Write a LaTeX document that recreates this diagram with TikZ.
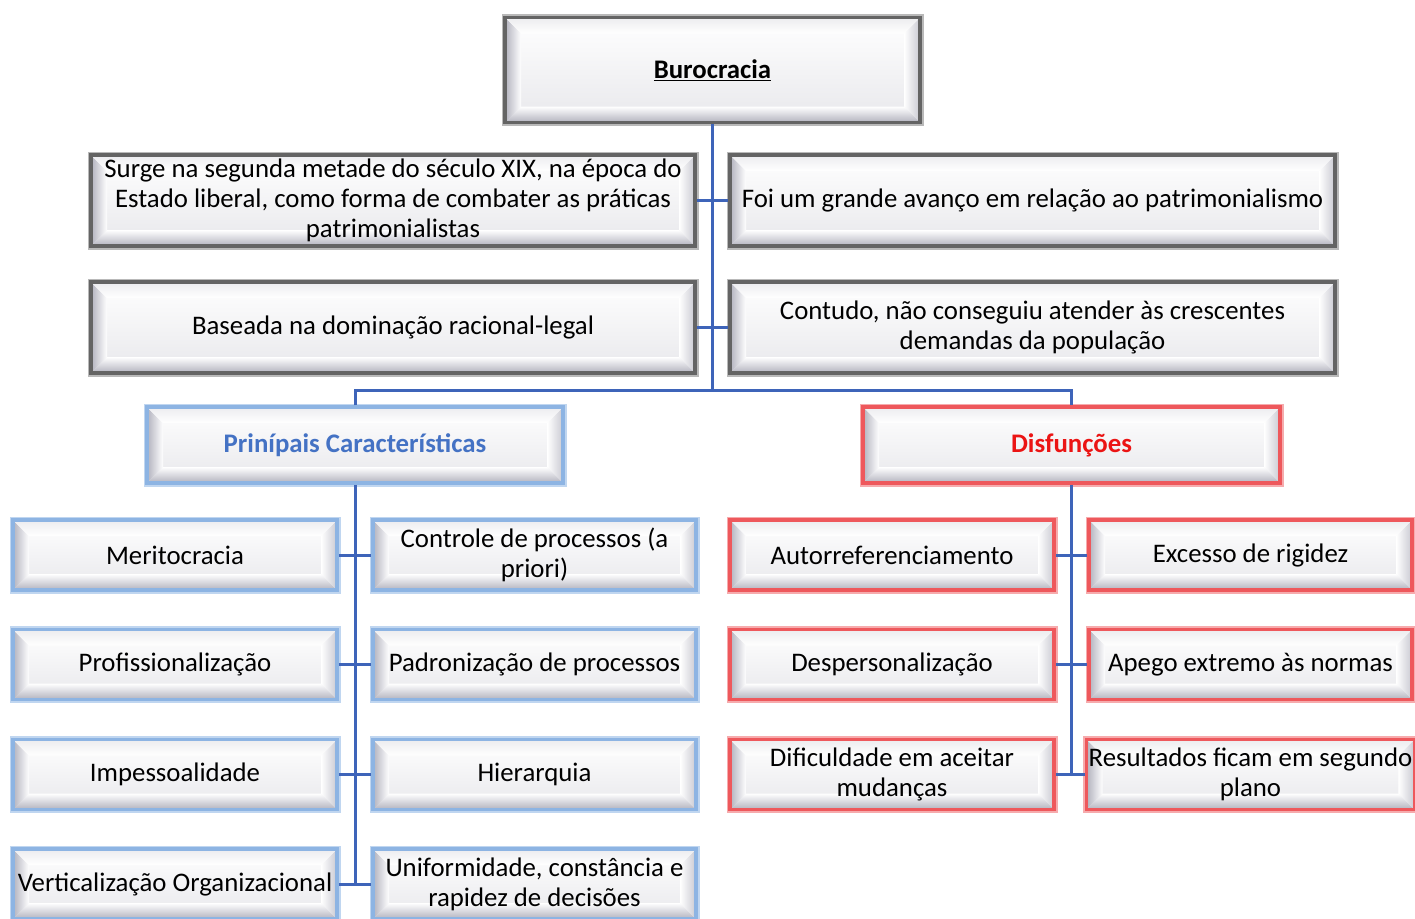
\documentclass[tikz,border=0pt]{standalone}
\usepackage{fontspec}
\setmainfont{Carlito}
\usetikzlibrary{calc}
\definecolor{conn}{RGB}{62,100,185}
\definecolor{gbord}{RGB}{100,100,100}
\definecolor{bbord}{RGB}{141,180,227}
\definecolor{rbord}{RGB}{238,88,92}
\definecolor{btext}{RGB}{68,114,196}
\definecolor{rtext}{RGB}{235,20,20}
\definecolor{bev}{RGB}{178,178,190}
\newcommand{\txtfont}{\fontsize{26.8}{29.8}\selectfont}
\tikzset{
  bevelbox/.style={rectangle, inner sep=2pt, align=center,
    font=\txtfont, fill=white,
    path picture={
      \path (path picture bounding box.south west) coordinate (psw)
            (path picture bounding box.north east) coordinate (pne)
            (path picture bounding box.north west) coordinate (pnw)
            (path picture bounding box.south east) coordinate (pse);
      \shade[top color=white, bottom color=bev!30] (psw) rectangle (pne);
      \shade[left color=bev, right color=white]
        (psw) -- (pnw) -- ($(pnw)+(16pt,-16pt)$) -- ($(psw)+(16pt,16pt)$) -- cycle;
      \shade[bottom color=bev, top color=white]
        (psw) -- (pse) -- ($(pse)+(-16pt,16pt)$) -- ($(psw)+(16pt,16pt)$) -- cycle;
      \shade[right color=bev!70, left color=white]
        (pse) -- (pne) -- ($(pne)+(-16pt,-16pt)$) -- ($(pse)+(-16pt,16pt)$) -- cycle;
      \shade[top color=bev!25, bottom color=white]
        (pnw) -- (pne) -- ($(pne)+(-16pt,-16pt)$) -- ($(pnw)+(16pt,-16pt)$) -- cycle;
    }},
  graybox/.style={bevelbox, draw=gbord, line width=3.5pt,
    preaction={draw=gbord!45, line width=7pt}},
  bluebox/.style={bevelbox, draw=bbord, line width=3.5pt,
    preaction={draw=bbord!55, line width=7pt}},
  redbox/.style={bevelbox, draw=rbord, line width=3.5pt,
    preaction={draw=rbord!50, line width=7pt}},
  link/.style={draw=conn, line width=3pt},
}
\begin{document}
\begin{tikzpicture}[x=1pt,y=-1pt]
\useasboundingbox (0,0) rectangle (1415,918);
\fill[white] (0,0) rectangle (1415,918);

% top level
\node[graybox, minimum width=415, minimum height=105, font=\txtfont\bfseries] (bur) at (712.5,70) {\underline{Burocracia}};

\node[graybox, minimum width=604, minimum height=91] (r1l) at (393,200.5)
  {Surge na segunda metade do século XIX, na época do\\Estado liberal, como forma de combater as práticas\\patrimonialistas};
\node[graybox, minimum width=605, minimum height=91] (r1r) at (1032.5,200.5)
  {Foi um grande avanço em relação ao patrimonialismo};
\node[graybox, minimum width=604, minimum height=91] (r2l) at (393,327.5)
  {Baseada na dominação racional-legal};
\node[graybox, minimum width=605, minimum height=91] (r2r) at (1032.5,327.5)
  {Contudo, não conseguiu atender às crescentes\\demandas da população};

% headers
\node[bluebox, minimum width=416, minimum height=76, text=btext, font=\txtfont\bfseries] (blueh) at (355,445) {Prinípais Características};
\node[redbox, minimum width=417, minimum height=76, text=rtext, font=\txtfont\bfseries] (redh) at (1071.5,445) {Disfunções};

% blue children
\node[bluebox, minimum width=324, minimum height=70] (b1l) at (175,555) {Meritocracia};
\node[bluebox, minimum width=323, minimum height=70] (b1r) at (534.5,555) {Controle de processos (a\\priori)};
\node[bluebox, minimum width=324, minimum height=70] (b2l) at (175,664.5) {Profissionalização};
\node[bluebox, minimum width=323, minimum height=70] (b2r) at (534.5,664.5) {Padronização de processos};
\node[bluebox, minimum width=324, minimum height=70] (b3l) at (175,774.5) {Impessoalidade};
\node[bluebox, minimum width=323, minimum height=70] (b3r) at (534.5,774.5) {Hierarquia};
\node[bluebox, minimum width=324, minimum height=70] (b4l) at (175,884) {Verticalização Organizacional};
\node[bluebox, minimum width=323, minimum height=70] (b4r) at (534.5,884) {Uniformidade, constância e\\rapidez de decisões};

% red children
\node[redbox, minimum width=324, minimum height=70] (d1l) at (892,555) {Autorreferenciamento};
\node[redbox, minimum width=323, minimum height=70] (d1r) at (1250.5,555) {Excesso de rigidez};
\node[redbox, minimum width=324, minimum height=70] (d2l) at (892,664.5) {Despersonalização};
\node[redbox, minimum width=323, minimum height=70] (d2r) at (1250.5,664.5) {Apego extremo às normas};
\node[redbox, minimum width=324, minimum height=70] (d3l) at (892,774.5) {Dificuldade em aceitar\\mudanças};
\node[redbox, minimum width=323, minimum height=70] (d3r) at (1250.5,774.5) {Resultados ficam em segundo\\plano};

% connectors
\coordinate (j1) at (712.5,390);
\draw[link] (bur.south) -- (j1);
\draw[link] (r1l.east) -- (r1r.west);
\draw[link] (r2l.east) -- (r2r.west);
\draw[link] (blueh.north) -- ++(0,-15) -| (redh.north);

\draw[link] (blueh.south) |- (b4l.east);
\draw[link] (b4l.east) -- (b4r.west);
\draw[link] (b1l.east) -- (b1r.west);
\draw[link] (b2l.east) -- (b2r.west);
\draw[link] (b3l.east) -- (b3r.west);

\draw[link] (redh.south) |- (d3l.east);
\draw[link] (d3l.east) -- (d3r.west);
\draw[link] (d1l.east) -- (d1r.west);
\draw[link] (d2l.east) -- (d2r.west);
\end{tikzpicture}
\end{document}
